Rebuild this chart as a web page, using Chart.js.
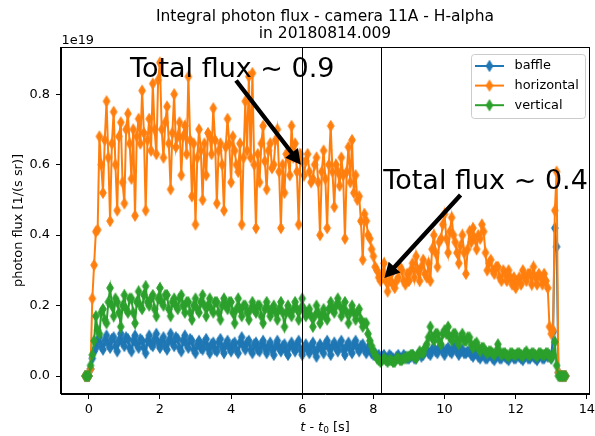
<!DOCTYPE html>
<html>
<head>
<meta charset="utf-8">
<script src="https://cdn.jsdelivr.net/npm/chart.js@4.4.1/dist/chart.umd.min.js"></script>
<style>
  html, body { margin: 0; padding: 0; background: #fff; }
  #wrap { width: 595px; height: 436px; }
</style>
</head>
<body>
<div id="wrap"><canvas id="chart" width="595" height="436"></canvas></div>
<script>
// time after t0 [s]
const time = [
  -0.1, -0.05, 0, 0.05, 0.1, 0.15, 0.2, 0.25, 0.3, 0.35, 0.4, 0.45, 0.5, 0.55, 0.6, 0.65, 0.7, 0.75, 0.8, 0.85, 0.9, 0.95,
  1.0, 1.05, 1.1, 1.15, 1.2, 1.25, 1.3, 1.35, 1.4, 1.45, 1.5, 1.55, 1.6, 1.65, 1.7, 1.75, 1.8, 1.85, 1.9, 1.95,
  2.0, 2.05, 2.1, 2.15, 2.2, 2.25, 2.3, 2.35, 2.4, 2.45, 2.5, 2.55, 2.6, 2.65, 2.7, 2.75, 2.8, 2.85, 2.9, 2.95,
  3.0, 3.05, 3.1, 3.15, 3.2, 3.25, 3.3, 3.35, 3.4, 3.45, 3.5, 3.55, 3.6, 3.65, 3.7, 3.75, 3.8, 3.85, 3.9, 3.95,
  4.0, 4.05, 4.1, 4.15, 4.2, 4.25, 4.3, 4.35, 4.4, 4.45, 4.5, 4.55, 4.6, 4.65, 4.7, 4.75, 4.8, 4.85, 4.9, 4.95,
  5.0, 5.05, 5.1, 5.15, 5.2, 5.25, 5.3, 5.35, 5.4, 5.45, 5.5, 5.55, 5.6, 5.65, 5.7, 5.75, 5.8, 5.85, 5.9, 5.95,
  6.0, 6.05, 6.1, 6.15, 6.2, 6.25, 6.3, 6.35, 6.4, 6.45, 6.5, 6.55, 6.6, 6.65, 6.7, 6.75, 6.8, 6.85, 6.9, 6.95,
  7.0, 7.05, 7.1, 7.15, 7.2, 7.25, 7.3, 7.35, 7.4, 7.45, 7.5, 7.55, 7.6, 7.65, 7.7, 7.75, 7.8, 7.85, 7.9, 7.95,
  8.0, 8.05, 8.1, 8.15, 8.2, 8.25, 8.3, 8.35, 8.4, 8.45, 8.5, 8.55, 8.6, 8.65, 8.7, 8.75, 8.8, 8.85, 8.9, 8.95,
  9.0, 9.05, 9.1, 9.15, 9.2, 9.25, 9.3, 9.35, 9.4, 9.45, 9.5, 9.55, 9.6, 9.65, 9.7, 9.75, 9.8, 9.85, 9.9, 9.95,
  10.0, 10.05, 10.1, 10.15, 10.2, 10.25, 10.3, 10.35, 10.4, 10.45, 10.5, 10.55, 10.6, 10.65, 10.7, 10.75, 10.8, 10.85, 10.9, 10.95,
  11.0, 11.05, 11.1, 11.15, 11.2, 11.25, 11.3, 11.35, 11.4, 11.45, 11.5, 11.55, 11.6, 11.65, 11.7, 11.75, 11.8, 11.85, 11.9, 11.95,
  12.0, 12.05, 12.1, 12.15, 12.2, 12.25, 12.3, 12.35, 12.4, 12.45, 12.5, 12.55, 12.6, 12.65, 12.7, 12.75, 12.8, 12.85, 12.9, 12.95,
  13.0, 13.05, 13.1, 13.15, 13.2, 13.25, 13.3, 13.35, 13.4
];

// photon flux, units of 1e19 / (s sr)
const baffle = [
  0, 0, 0, 0.02, 0.05, 0.07, 0.08, 0.10, 0.11, 0.085, 0.075, 0.10, 0.115, 0.09, 0.08, 0.105, 0.11, 0.085, 0.07, 0.10, 0.12, 0.095,
  0.085, 0.11, 0.105, 0.08, 0.07, 0.10, 0.115, 0.09, 0.08, 0.105, 0.10, 0.08, 0.065, 0.10, 0.115, 0.09, 0.085, 0.105, 0.12, 0.095,
  0.08, 0.10, 0.11, 0.085, 0.075, 0.10, 0.12, 0.095, 0.085, 0.11, 0.105, 0.08, 0.07, 0.10, 0.115, 0.09, 0.08, 0.105, 0.10, 0.075,
  0.065, 0.09, 0.10, 0.08, 0.075, 0.095, 0.105, 0.08, 0.065, 0.09, 0.095, 0.075, 0.07, 0.095, 0.105, 0.08, 0.065, 0.09, 0.10, 0.08,
  0.07, 0.09, 0.095, 0.075, 0.065, 0.095, 0.11, 0.085, 0.075, 0.095, 0.10, 0.075, 0.065, 0.09, 0.095, 0.075, 0.07, 0.09, 0.10, 0.08,
  0.065, 0.085, 0.095, 0.075, 0.06, 0.085, 0.10, 0.08, 0.07, 0.085, 0.09, 0.07, 0.06, 0.085, 0.095, 0.08, 0.07, 0.09, 0.10, 0.075,
  0.06, 0.08, 0.09, 0.075, 0.065, 0.085, 0.095, 0.07, 0.055, 0.08, 0.09, 0.075, 0.065, 0.09, 0.10, 0.08, 0.06, 0.085, 0.095, 0.08,
  0.07, 0.09, 0.10, 0.075, 0.06, 0.085, 0.095, 0.075, 0.065, 0.09, 0.10, 0.08, 0.07, 0.085, 0.09, 0.075, 0.065, 0.08, 0.08, 0.065,
  0.06, 0.065, 0.055, 0.06, 0.05, 0.055, 0.06, 0.05, 0.05, 0.06, 0.055, 0.05, 0.045, 0.055, 0.06, 0.05, 0.05, 0.06, 0.055, 0.05,
  0.05, 0.055, 0.06, 0.05, 0.05, 0.06, 0.065, 0.055, 0.06, 0.07, 0.075, 0.065, 0.06, 0.075, 0.08, 0.07, 0.065, 0.08, 0.085, 0.07,
  0.06, 0.075, 0.08, 0.07, 0.065, 0.08, 0.085, 0.07, 0.06, 0.07, 0.075, 0.065, 0.065, 0.07, 0.07, 0.06, 0.055, 0.065, 0.065, 0.055,
  0.05, 0.06, 0.06, 0.05, 0.05, 0.06, 0.06, 0.05, 0.045, 0.055, 0.06, 0.05, 0.05, 0.06, 0.055, 0.05, 0.045, 0.055, 0.06, 0.05,
  0.05, 0.06, 0.055, 0.05, 0.045, 0.055, 0.06, 0.05, 0.05, 0.06, 0.055, 0.05, 0.045, 0.055, 0.06, 0.05, 0.05, 0.06, 0.055, 0.06,
  0.05, 0.126, 0.42, 0.367, 0.01, 0, 0, 0, 0
];

const horizontal = [
  0, 0, 0, 0.02, 0.22, 0.315, 0.41, 0.415, 0.68, 0.60, 0.52, 0.67, 0.78, 0.62, 0.44, 0.66, 0.75, 0.60, 0.47, 0.68, 0.72, 0.55,
  0.49, 0.70, 0.745, 0.66, 0.56, 0.70, 0.455, 0.68, 0.73, 0.66, 0.81, 0.69, 0.47, 0.67, 0.73, 0.64, 0.83, 0.70, 0.63, 0.84,
  0.89, 0.70, 0.62, 0.72, 0.765, 0.66, 0.53, 0.69, 0.80, 0.65, 0.68, 0.72, 0.57, 0.68, 0.71, 0.63, 0.85, 0.67, 0.51, 0.66,
  0.43, 0.62, 0.70, 0.64, 0.50, 0.66, 0.57, 0.69, 0.68, 0.63, 0.76, 0.67, 0.49, 0.64, 0.66, 0.60, 0.47, 0.65, 0.73, 0.66,
  0.55, 0.68, 0.64, 0.60, 0.58, 0.66, 0.43, 0.62, 0.78, 0.64, 0.85, 0.62, 0.86, 0.60, 0.42, 0.63, 0.55, 0.66, 0.71, 0.61,
  0.53, 0.64, 0.66, 0.59, 0.60, 0.67, 0.70, 0.58, 0.42, 0.60, 0.52, 0.63, 0.62, 0.57, 0.71, 0.62, 0.66, 0.58, 0.43, 0.63,
  0.61, 0.57, 0.61, 0.63, 0.58, 0.55, 0.56, 0.60, 0.62, 0.55, 0.40, 0.58, 0.64, 0.56, 0.42, 0.60, 0.71, 0.58, 0.48, 0.60,
  0.58, 0.54, 0.62, 0.57, 0.39, 0.58, 0.65, 0.55, 0.67, 0.52, 0.57, 0.50, 0.51, 0.44, 0.33, 0.46, 0.44, 0.40, 0.39, 0.36,
  0.34, 0.31, 0.30, 0.28, 0.27, 0.29, 0.32, 0.27, 0.24, 0.27, 0.29, 0.26, 0.25, 0.27, 0.28, 0.31, 0.30, 0.27, 0.26, 0.29,
  0.27, 0.30, 0.32, 0.28, 0.34, 0.30, 0.27, 0.31, 0.33, 0.29, 0.28, 0.32, 0.27, 0.36, 0.40, 0.35, 0.31, 0.38, 0.39, 0.43,
  0.46, 0.39, 0.35, 0.41, 0.45, 0.40, 0.38, 0.35, 0.32, 0.37, 0.40, 0.35, 0.29, 0.36, 0.41, 0.38, 0.42, 0.39, 0.36, 0.40,
  0.39, 0.43, 0.41, 0.35, 0.30, 0.32, 0.33, 0.30, 0.29, 0.31, 0.31, 0.28, 0.27, 0.30, 0.29, 0.27, 0.30, 0.28, 0.26, 0.28,
  0.25, 0.27, 0.28, 0.26, 0.30, 0.28, 0.27, 0.29, 0.29, 0.26, 0.31, 0.28, 0.26, 0.29, 0.28, 0.26, 0.29, 0.27, 0.25, 0.14,
  0.12, 0.13, 0.47, 0.58, 0.01, 0, 0, 0, 0
];

const vertical = [
  0, 0, 0, 0.03, 0.06, 0.10, 0.17, 0.13, 0.12, 0.18, 0.19, 0.16, 0.15, 0.21, 0.25, 0.20, 0.17, 0.22, 0.21, 0.18, 0.14, 0.20,
  0.23, 0.19, 0.18, 0.22, 0.22, 0.18, 0.15, 0.21, 0.24, 0.20, 0.19, 0.23, 0.255, 0.21, 0.20, 0.22, 0.23, 0.19, 0.17, 0.22,
  0.25, 0.21, 0.20, 0.23, 0.23, 0.19, 0.17, 0.21, 0.22, 0.20, 0.19, 0.22, 0.23, 0.20, 0.18, 0.21, 0.21, 0.18, 0.16, 0.20,
  0.22, 0.19, 0.18, 0.21, 0.23, 0.20, 0.17, 0.20, 0.22, 0.19, 0.18, 0.21, 0.21, 0.18, 0.16, 0.20, 0.22, 0.20, 0.19, 0.21,
  0.21, 0.18, 0.15, 0.19, 0.22, 0.19, 0.17, 0.20, 0.20, 0.18, 0.16, 0.19, 0.21, 0.19, 0.18, 0.20, 0.20, 0.17, 0.15, 0.19,
  0.21, 0.19, 0.17, 0.19, 0.20, 0.18, 0.16, 0.19, 0.21, 0.18, 0.14, 0.18, 0.20, 0.18, 0.17, 0.19, 0.21, 0.19, 0.16, 0.19,
  0.22, 0.19, 0.17, 0.18, 0.19, 0.17, 0.14, 0.17, 0.20, 0.18, 0.15, 0.17, 0.19, 0.17, 0.16, 0.19, 0.21, 0.19, 0.18, 0.20,
  0.22, 0.20, 0.17, 0.19, 0.21, 0.18, 0.15, 0.18, 0.20, 0.18, 0.16, 0.18, 0.19, 0.16, 0.14, 0.15, 0.15, 0.12, 0.10, 0.085,
  0.07, 0.06, 0.05, 0.045, 0.04, 0.045, 0.05, 0.045, 0.04, 0.045, 0.045, 0.04, 0.04, 0.05, 0.05, 0.045, 0.045, 0.05, 0.05, 0.055,
  0.055, 0.06, 0.06, 0.055, 0.05, 0.06, 0.07, 0.065, 0.065, 0.08, 0.09, 0.11, 0.14, 0.11, 0.10, 0.12, 0.12, 0.10, 0.09, 0.12,
  0.13, 0.12, 0.14, 0.11, 0.10, 0.12, 0.12, 0.10, 0.09, 0.11, 0.12, 0.10, 0.10, 0.11, 0.11, 0.09, 0.08, 0.09, 0.095, 0.08,
  0.07, 0.08, 0.08, 0.07, 0.065, 0.07, 0.07, 0.065, 0.06, 0.07, 0.09, 0.07, 0.06, 0.065, 0.065, 0.06, 0.055, 0.065, 0.065, 0.06,
  0.06, 0.065, 0.065, 0.06, 0.055, 0.065, 0.07, 0.06, 0.06, 0.065, 0.065, 0.06, 0.055, 0.065, 0.065, 0.06, 0.06, 0.065, 0.065, 0.055,
  0.05, 0.06, 0.097, 0.03, 0, 0, 0, 0, 0
];

const xTicks = [0, 2, 4, 6, 8, 10, 12, 14];
const yTicks = [0, 0.2, 0.4, 0.6, 0.8];
const markTimes = [6, 8.2];

// annotation: text anchor, arrow tail and arrow tip, all in data coords
const notes = [
  { text: 'Total flux ~ 0.9', tx: 1.16, ty: 0.849, ax: 4.14, ay: 0.839, px: 5.96, py: 0.60 },
  { text: 'Total flux ~ 0.4', tx: 8.28, ty: 0.530, ax: 10.45, ay: 0.514, px: 8.31, py: 0.278 }
];

const FONT = '"DejaVu Sans", sans-serif';
const colors = { baffle: '#1f77b4', horizontal: '#ff7f0e', vertical: '#2ca02c' };

// matplotlib thin diamond marker
function diamond(color) {
    var c = document.createElement('canvas');
    c.width = 10;
    c.height = 14;
    var g = c.getContext('2d');
    g.fillStyle = color;
    g.strokeStyle = color;
    g.lineWidth = 1;
    g.beginPath();
    g.moveTo(5, 1.5);
    g.lineTo(8.3, 7);
    g.lineTo(5, 12.5);
    g.lineTo(1.7, 7);
    g.closePath();
    g.fill();
    g.stroke();
    return c;
}

function makeSet(label, values, color, order) {
    return {
        label: label,
        data: time.map((t, i) => ({ x: t, y: values[i] })),
        borderColor: color,
        backgroundColor: color,
        borderWidth: 2,
        tension: 0,
        pointStyle: diamond(color),
        pointRadius: 4,
        order: order
    };
}

function drawArrow(ctx, x0, y0, x1, y1) {
    var dx = x1 - x0, dy = y1 - y0, len = Math.hypot(dx, dy);
    var ux = dx / len, uy = dy / len, nx = -uy, ny = ux;
    var hw = 2.2, hh = 8, hl = 15;
    var bx = x1 - ux * hl, by = y1 - uy * hl;
    ctx.beginPath();
    ctx.moveTo(x0 + nx * hw, y0 + ny * hw);
    ctx.lineTo(bx + nx * hw, by + ny * hw);
    ctx.lineTo(bx + nx * hh, by + ny * hh);
    ctx.lineTo(x1, y1);
    ctx.lineTo(bx - nx * hh, by - ny * hh);
    ctx.lineTo(bx - nx * hw, by - ny * hw);
    ctx.lineTo(x0 - nx * hw, y0 - ny * hw);
    ctx.closePath();
    ctx.fill();
}

const extras = {
    id: 'extras',
    afterDatasetsDraw(chart) {
        var ctx = chart.ctx, a = chart.chartArea;
        var xs = chart.scales.x, ys = chart.scales.y;
        ctx.save();

        // vertical marker lines
        ctx.strokeStyle = '#000';
        ctx.lineWidth = 1;
        markTimes.forEach(function (t) {
            var px = Math.round(xs.getPixelForValue(t)) + 0.5;
            ctx.beginPath();
            ctx.moveTo(px, a.top);
            ctx.lineTo(px, a.bottom);
            ctx.stroke();
        });

        // annotations
        ctx.fillStyle = '#000';
        notes.forEach(function (n) {
            drawArrow(ctx, xs.getPixelForValue(n.ax), ys.getPixelForValue(n.ay),
                      xs.getPixelForValue(n.px), ys.getPixelForValue(n.py));
            ctx.font = '27px ' + FONT;
            ctx.textAlign = 'left';
            ctx.textBaseline = 'alphabetic';
            ctx.fillText(n.text, xs.getPixelForValue(n.tx), ys.getPixelForValue(n.ty));
        });

        // frame
        ctx.strokeStyle = '#000';
        ctx.lineWidth = 1;
        ctx.strokeRect(Math.round(a.left) - 0.5, Math.round(a.top) + 0.5,
                       Math.round(a.right - a.left) + 1, Math.round(a.bottom - a.top) - 1);

        // legend
        var lx = 471.5, ly = 54.5, lw = 114, lh = 64;
        ctx.beginPath();
        ctx.roundRect(lx, ly, lw, lh, 3);
        ctx.fillStyle = 'rgba(255,255,255,0.8)';
        ctx.fill();
        ctx.strokeStyle = '#cccccc';
        ctx.stroke();
        chart.data.datasets.forEach(function (ds, i) {
            var y = 66 + i * 19.6;
            ctx.strokeStyle = ds.borderColor;
            ctx.lineWidth = 2;
            ctx.beginPath();
            ctx.moveTo(475, y);
            ctx.lineTo(504, y);
            ctx.stroke();
            ctx.drawImage(ds.pointStyle, 489.5 - 5, y - 7);
            ctx.fillStyle = '#000';
            ctx.font = '12.9px ' + FONT;
            ctx.textBaseline = 'middle';
            ctx.fillText(ds.label, 514.5, y);
        });
        ctx.restore();
    },
    afterDraw(chart) {
        var ctx = chart.ctx, a = chart.chartArea;
        var cx = (a.left + a.right) / 2;
        ctx.save();
        ctx.fillStyle = '#000';
        ctx.textBaseline = 'middle';

        // title
        ctx.font = '15.5px ' + FONT;
        ctx.textAlign = 'center';
        ctx.fillText('Integral photon flux - camera 11A - H-alpha', cx, 16.5);
        ctx.fillText('in 20180814.009', cx, 33.5);

        // offset text
        ctx.font = '12.9px ' + FONT;
        ctx.textAlign = 'left';
        ctx.fillText('1e19', 61.5, 40.5);

        // y title
        ctx.save();
        ctx.translate(18.5, (a.top + a.bottom) / 2);
        ctx.rotate(-Math.PI / 2);
        ctx.textAlign = 'center';
        ctx.fillText('photon flux [1/(s sr)]', 0, 0);
        ctx.restore();

        // x title: $t$ - $t_0$ [s]
        var parts = [
            ['oblique 12.9px ' + FONT, 't', 0],
            ['12.9px ' + FONT, ' - ', 0],
            ['oblique 12.9px ' + FONT, 't', 0],
            ['9px ' + FONT, '0', 3],
            ['12.9px ' + FONT, ' [s]', 0]
        ];
        var total = 0;
        parts.forEach(function (p) { ctx.font = p[0]; total += ctx.measureText(p[1]).width; });
        var x = cx - total / 2;
        ctx.textAlign = 'left';
        parts.forEach(function (p) {
            ctx.font = p[0];
            ctx.fillText(p[1], x, 428 + p[2]);
            x += ctx.measureText(p[1]).width;
        });
        ctx.restore();
    }
};

const tickFont = { family: FONT, size: 12.9 };

new Chart(document.getElementById('chart'), {
    type: 'line',
    data: {
        datasets: [
            makeSet('baffle', baffle, colors.baffle, 2),
            makeSet('horizontal', horizontal, colors.horizontal, 1),
            makeSet('vertical', vertical, colors.vertical, 0)
        ]
    },
    options: {
        responsive: false,
        animation: false,
        events: [],
        layout: { padding: { top: 47, right: 3, left: 0, bottom: 0 } },
        plugins: {
            legend: { display: false },
            tooltip: { enabled: false },
            title: { display: false }
        },
        scales: {
            x: {
                type: 'linear',
                min: -0.78,
                max: 14.06,
                afterFit: function (s) { s.height = 42; s.paddingLeft = 0; s.paddingRight = 0; },
                afterBuildTicks: function (s) { s.ticks = xTicks.map(v => ({ value: v })); },
                ticks: { color: '#000', font: tickFont, padding: 3, maxRotation: 0, autoSkip: false },
                grid: { drawOnChartArea: false, drawTicks: true, tickLength: 5, color: '#000', lineWidth: 1 },
                border: { display: true, color: '#000', width: 1 }
            },
            y: {
                type: 'linear',
                min: -0.051,
                max: 0.934,
                afterFit: function (s) { s.width = 61; s.paddingTop = 0; s.paddingBottom = 0; },
                afterBuildTicks: function (s) { s.ticks = yTicks.map(v => ({ value: v })); },
                ticks: { color: '#000', font: tickFont, padding: 6, callback: v => v.toFixed(1) },
                grid: { drawOnChartArea: false, drawTicks: true, tickLength: 5, color: '#000', lineWidth: 1 },
                border: { display: true, color: '#000', width: 1 }
            }
        }
    },
    plugins: [extras]
});
</script>
</body>
</html>
